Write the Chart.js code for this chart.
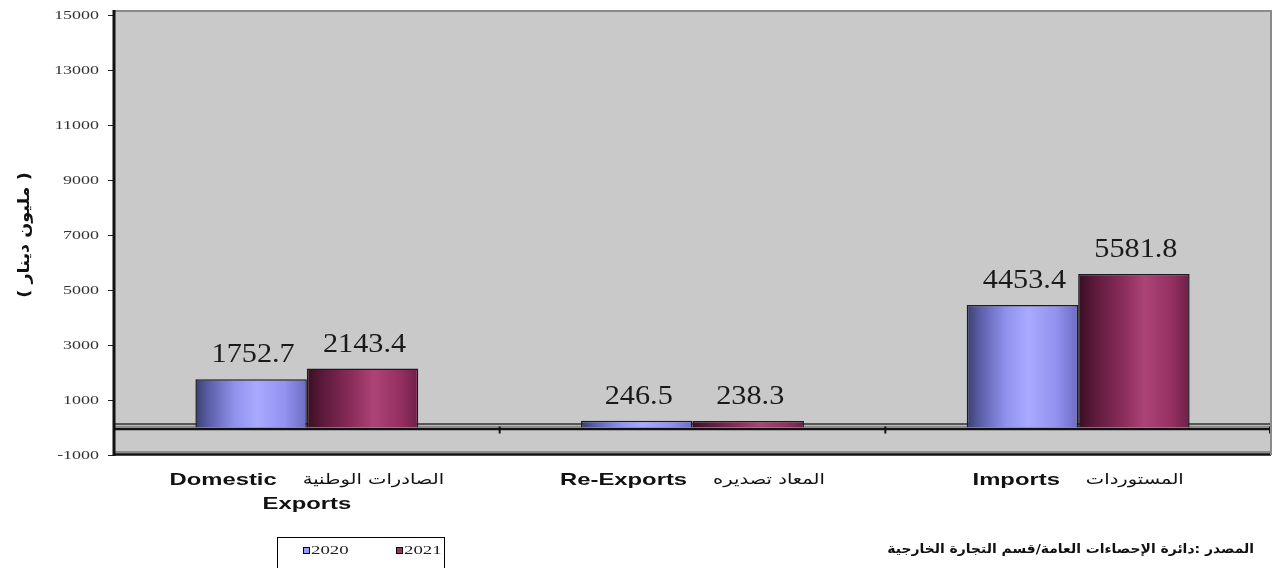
<!DOCTYPE html>
<html>
<head>
<meta charset="utf-8">
<script src="https://cdn.jsdelivr.net/npm/chart.js@4/dist/chart.umd.min.js"></script>
<style>
  html, body { margin: 0; padding: 0; background: #fff; }
  #wrap { width: 1274px; height: 568px; }
</style>
</head>
<body>
<div id="wrap"><canvas id="chart"></canvas></div>
<script>
// data
const categoriesEn = [["Domestic", "Exports"], ["Re-Exports"], ["Imports"]];
const categoriesAr = ["الصادرات الوطنية", "المعاد تصديره", "المستوردات"];
const seriesLabels = ["2020", "2021"];
const values2020 = [1752.7, 246.5, 4453.4];
const values2021 = [2143.4, 238.3, 5581.8];
const yMin = -1000, yMax = 15000, yStep = 2000;
const yTitle = "( مليون دينار )";
const sourceNote = "المصدر :دائرة الإحصاءات العامة/قسم التجارة الخارجية";

const swatch = ["#9999ff", "#993366"];
const gradStops = [
    [[0, "#3c3f6e"], [0.12, "#5b5ea8"], [0.35, "#8f91ec"], [0.55, "#a9a9ff"], [0.8, "#9393f0"], [1, "#6c6cc4"]],
    [[0, "#3a0e22"], [0.15, "#5e1a3c"], [0.4, "#8a2c5a"], [0.6, "#ad4477"], [0.85, "#932f60"], [1, "#6e2048"]]
];

// draws text stretched horizontally (the source picture is stretched)
function stretchText(ctx, text, x, y, sx, align) {
    ctx.save();
    ctx.translate(x, y);
    ctx.scale(sx, 1);
    ctx.textAlign = align || "left";
    ctx.fillText(text, 0, 0);
    ctx.restore();
}

const excelLook = {
    id: "excelLook",
    beforeDraw(chart) {
        const { ctx, chartArea: a } = chart;
        ctx.save();
        ctx.fillStyle = "#ffffff";
        ctx.fillRect(0, 0, chart.width, chart.height);
        ctx.fillStyle = "#c9c9c9";
        ctx.fillRect(a.left, a.top - 4, a.right - a.left, a.bottom - a.top + 4);
        ctx.restore();
    },
    beforeDatasetsDraw(chart) {
        const { ctx, chartArea: a, scales: { x, y } } = chart;
        const y0 = y.getPixelForValue(0);
        ctx.save();
        // floor of the 3d plot
        const hline = (yy, w, c) => {
            ctx.strokeStyle = c; ctx.lineWidth = w;
            ctx.beginPath(); ctx.moveTo(a.left, yy); ctx.lineTo(a.right, yy); ctx.stroke();
        };
        hline(y0 - 3.5, 2, "#555");
        hline(y0 - 1, 1.5, "#8a8a8a");
        hline(y0 + 1.5, 2.5, "#111");
        hline(a.bottom - 3, 2, "#8a8a8a");
        hline(a.bottom - 0.5, 2.5, "#111");
        // category dividers on the floor
        ctx.strokeStyle = "#111"; ctx.lineWidth = 2;
        for (let i = 1; i <= categoriesEn.length; i++) {
            const px = i === categoriesEn.length ? a.right - 1
                : (x.getPixelForValue(i - 1) + x.getPixelForValue(i)) / 2;
            ctx.beginPath(); ctx.moveTo(px, y0 - 1); ctx.lineTo(px, y0 + 6); ctx.stroke();
        }
        ctx.restore();

        // gradient fill for every bar
        chart.data.datasets.forEach((ds, di) => {
            chart.getDatasetMeta(di).data.forEach(bar => {
                const { x: bx, width } = bar.getProps(["x", "width"], true);
                const g = ctx.createLinearGradient(bx - width / 2, 0, bx + width / 2, 0);
                gradStops[di].forEach(s => g.addColorStop(s[0], s[1]));
                bar.options = Object.assign({}, bar.options, { backgroundColor: g });
            });
        });
    },
    afterDatasetsDraw(chart) {
        const { ctx } = chart;
        ctx.save();
        ctx.fillStyle = "#1a1a1a";
        ctx.font = "27px 'Liberation Serif'";
        ctx.textBaseline = "alphabetic";
        chart.data.datasets.forEach((ds, di) => {
            chart.getDatasetMeta(di).data.forEach((bar, i) => {
                const { x: bx, y: by } = bar.getProps(["x", "y"], true);
                stretchText(ctx, ds.data[i].toFixed(1), bx + 2, by - 17, 1.12, "center");
            });
        });
        ctx.restore();
    },
    afterDraw(chart) {
        const { ctx, chartArea: a, scales: { x, y } } = chart;
        ctx.save();
        // frame
        ctx.strokeStyle = "#8a8a8a"; ctx.lineWidth = 2;
        ctx.beginPath(); ctx.moveTo(a.left, a.top - 4); ctx.lineTo(a.right, a.top - 4); ctx.lineTo(a.right, a.bottom); ctx.stroke();
        ctx.strokeStyle = "#111"; ctx.lineWidth = 3;
        ctx.beginPath(); ctx.moveTo(a.left, a.top - 5); ctx.lineTo(a.left, a.bottom + 1); ctx.stroke();

        // y tick labels
        ctx.fillStyle = "#333";
        ctx.font = "13px 'Liberation Serif'";
        ctx.textBaseline = "middle";
        y.ticks.forEach(t => {
            stretchText(ctx, String(t.value), a.left - 15, y.getPixelForValue(t.value) + 1, 1.38, "right");
        });

        // y title
        ctx.fillStyle = "#111";
        ctx.font = "bold 16px 'DejaVu Sans'";
        ctx.save();
        ctx.translate(25, (a.top + a.bottom) / 2);
        ctx.rotate(-Math.PI / 2);
        ctx.scale(1.1, 1);
        ctx.textAlign = "center";
        ctx.fillText(yTitle, 0, 0);
        ctx.restore();

        // category labels: bold english + arabic on one line
        ctx.textBaseline = "alphabetic";
        const sx = 1.4, sxAr = 1.3, gap = 26;
        categoriesEn.forEach((en, i) => {
            const cx = x.getPixelForValue(i);
            ctx.font = "bold 17px 'Liberation Sans'";
            const wEn = ctx.measureText(en[0]).width * sx;
            ctx.font = "15px 'DejaVu Sans'";
            const wAr = ctx.measureText(categoriesAr[i]).width * sxAr;
            const start = cx - (wEn + gap + wAr) / 2;
            ctx.fillStyle = "#111";
            ctx.font = "bold 17px 'Liberation Sans'";
            stretchText(ctx, en[0], start, a.bottom + 30, sx, "left");
            for (let k = 1; k < en.length; k++) {
                stretchText(ctx, en[k], cx, a.bottom + 30 + 24 * k, sx, "center");
            }
            ctx.font = "15px 'DejaVu Sans'";
            stretchText(ctx, categoriesAr[i], start + wEn + gap, a.bottom + 29, sxAr, "left");
        });

        // legend box
        const lx = 277, ly = 537;
        ctx.strokeStyle = "#000"; ctx.lineWidth = 1;
        ctx.strokeRect(lx + 0.5, ly + 0.5, 167, 40);
        ctx.font = "13px 'Liberation Serif'";
        ctx.textBaseline = "middle";
        seriesLabels.forEach((lab, i) => {
            const ix = lx + 26 + i * 93;
            ctx.fillStyle = swatch[i];
            ctx.fillRect(ix, ly + 10, 7, 7);
            ctx.strokeStyle = "#000";
            ctx.strokeRect(ix + 0.5, ly + 10.5, 6, 6);
            ctx.fillStyle = "#222";
            stretchText(ctx, lab, ix + 8, ly + 14, 1.45, "left");
        });

        // source note
        ctx.fillStyle = "#111";
        ctx.font = "bold 13px 'DejaVu Sans'";
        ctx.textBaseline = "alphabetic";
        stretchText(ctx, sourceNote, 1254, 553, 1.07, "right");
        ctx.restore();
    }
};

new Chart(document.getElementById("chart"), {
    type: "bar",
    data: {
        labels: categoriesEn.map(c => c.join(" ")),
        datasets: [
            { label: seriesLabels[0], data: values2020, backgroundColor: swatch[0] },
            { label: seriesLabels[1], data: values2021, backgroundColor: swatch[1] }
        ]
    },
    options: {
        responsive: true, maintainAspectRatio: false,
        animation: false,
        layout: { padding: { top: 15, right: 3, left: 0, bottom: 0 } },
        datasets: {
            bar: {
                categoryPercentage: 0.578, barPercentage: 1.0,
                borderColor: "#1b1b26", borderWidth: 1.5, borderSkipped: "start"
            }
        },
        plugins: { legend: { display: false }, tooltip: { enabled: false } },
        scales: {
            x: {
                grid: { display: false }, border: { display: false },
                ticks: { display: false },
                afterFit: s => { s.height = 113; }
            },
            y: {
                min: yMin, max: yMax,
                ticks: { display: false, stepSize: yStep },
                grid: { drawOnChartArea: false, drawTicks: true, tickLength: 6, color: "#222" },
                border: { display: false },
                afterFit: s => { s.width = 114; }
            }
        }
    },
    plugins: [excelLook]
});
</script>
</body>
</html>
